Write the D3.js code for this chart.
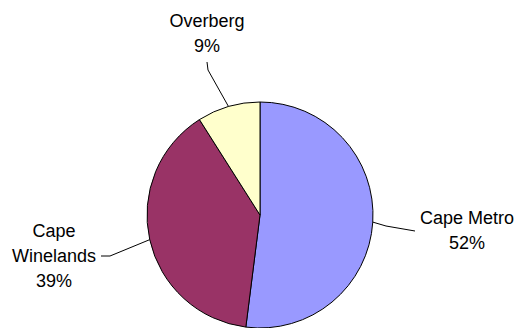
<!DOCTYPE html>
<html>
<head>
<meta charset="utf-8">
<script src="https://cdn.jsdelivr.net/npm/d3@7"></script>
<style>
  html, body { margin: 0; padding: 0; background: #fff; }
  svg { display: block; }
  text { font-family: "Liberation Sans", Arial, sans-serif; font-size: 18px; fill: #000; }
</style>
</head>
<body>
<svg id="chart" width="519" height="328"></svg>
<script>
// Regional share, clockwise from 12 o'clock
const regions = ["Cape Metro", "Cape Winelands", "Overberg"];
const shares = [52, 39, 9];
const colours = ["#9999FF", "#993366", "#FFFFCC"];

// Label text lines and anchor points for each slice
const labelLines = [["Cape Metro", "52%"], ["Cape", "Winelands", "39%"], ["Overberg", "9%"]];
const labelPos = [[467, 224], [54, 237], [207, 27]];
// Leader line bends (label end, elbow) — the slice end is the arc midpoint
const leaderEnds = [[[415, 231], [386, 226]], [[101, 256], [110, 256]], [[207, 62], [208, 70]]];

const svg = d3.select("#chart");
const cx = 260, cy = 215, r = 113;

const pie = d3.pie().sort(null).value(d => d)(shares);
const arc = d3.arc().innerRadius(0).outerRadius(r);

const g = svg.append("g").attr("transform", `translate(${cx},${cy})`);
g.selectAll("path.slice")
  .data(pie)
  .join("path")
  .attr("class", "slice")
  .attr("d", arc)
  .attr("fill", (d, i) => colours[i])
  .attr("stroke", "#000")
  .attr("stroke-width", 1);

// Leader lines from the middle of each slice's outer edge to its label
pie.forEach((d, i) => {
  const a = (d.startAngle + d.endAngle) / 2;
  const px = cx + r * Math.sin(a), py = cy - r * Math.cos(a);
  const [p1, p2] = leaderEnds[i];
  svg.append("path")
    .attr("d", d3.line()([p1, p2, [px, py]]))
    .attr("fill", "none")
    .attr("stroke", "#000")
    .attr("stroke-width", 1);
});

// Labels
labelLines.forEach((lines, i) => {
  const t = svg.append("text").attr("text-anchor", "middle");
  lines.forEach((s, k) => {
    t.append("tspan").attr("x", labelPos[i][0]).attr("y", labelPos[i][1] + k * 25).text(s);
  });
});
</script>
</body>
</html>
